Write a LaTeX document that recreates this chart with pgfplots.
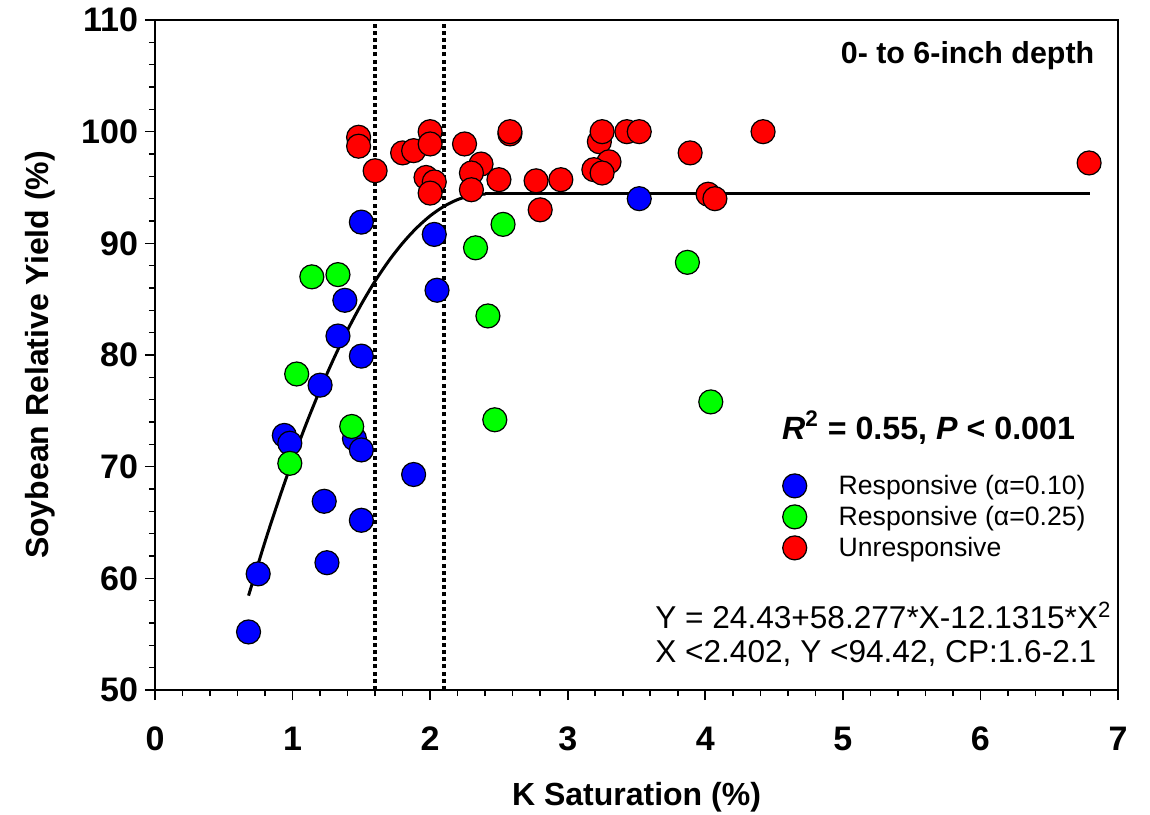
\documentclass[border=0pt]{standalone}
\usepackage{pgfplots}
\pgfplotsset{compat=1.18}
\usepackage{fontspec}
\setmainfont{Liberation Sans}
\begin{document}
\begin{tikzpicture}
\useasboundingbox (-77.5pt,-62pt) rectangle (497.5pt,345pt);
\begin{axis}[
  at={(0pt,0pt)}, anchor=south west,
  scale only axis, width=481.5pt, height=335pt,
  xmin=0, xmax=7, ymin=50, ymax=110,
  xtick={0,1,...,7}, ytick={50,60,...,110},
  minor x tick num=4, minor y tick num=4,
  tick align=outside, tick pos=left,
  major tick length=5pt, minor tick length=3pt,
  every tick/.style={black, line width=0.8pt},
  axis line style={line width=0.8pt},
  /pgf/number format/assume math mode=true,
  ticklabel style={font=\bfseries\fontsize{17}{20}\selectfont},
  xticklabel style={yshift=-10pt},
  xlabel={K Saturation (\%)}, ylabel={Soybean Relative Yield (\%)},
  label style={font=\bfseries\fontsize{16}{19}\selectfont},
  xlabel style={at={(axis description cs:0.5,-0.1597)}, anchor=center},
  ylabel style={at={(axis description cs:-0.1194,0.5)}, anchor=center},
  legend cell align=left,
  legend image code/.code={\draw[mark repeat=2,mark phase=2,#1] plot coordinates {(0pt,0pt)(6pt,0pt)(12pt,0pt)};},
  legend style={draw=none, fill=none, at={(axis cs:4.560,69.39)}, anchor=north west,
    inner sep=0pt, row sep=3.5pt, column sep=16pt,
    font=\fontsize{13.3}{16}\selectfont, nodes={inner sep=0pt}},
]
% dotted critical range lines
\addplot[forget plot, black, line width=2pt, dash pattern=on 2pt off 1.6pt] coordinates {(1.6,50) (1.6,110)};
\addplot[forget plot, black, line width=2pt, dash pattern=on 2pt off 1.6pt] coordinates {(2.1,50) (2.1,110)};
% blue
\addplot[only marks, mark=*, mark size=6pt, mark options={draw=black, fill=blue, line width=0.6pt}] coordinates {
(0.68,55.2) (0.75,60.4) (0.94,72.8) (0.98,72.1) (1.20,77.3) (1.23,66.9) (1.25,61.4)
(1.33,81.7) (1.38,84.9) (1.45,72.5) (1.50,71.5) (1.50,65.2) (1.50,79.9) (1.50,91.9)
(1.88,69.3) (2.03,90.8) (2.05,85.8) (3.52,94.0)};
\addlegendentry{Responsive (α=0.10)}
% green
\addplot[only marks, mark=*, mark size=6pt, mark options={draw=black, fill=green, line width=0.6pt}] coordinates {
(0.98,70.3) (1.03,78.3) (1.14,87.0) (1.33,87.2) (1.43,73.6) (2.33,89.6) (2.53,91.7)
(2.42,83.5) (2.47,74.2) (3.87,88.3) (4.04,75.8)};
\addlegendentry{Responsive (α=0.25)}
% red
\addplot[only marks, mark=*, mark size=6pt, mark options={draw=black, fill=red, line width=0.6pt}] coordinates {
(1.48,99.5) (1.48,98.7) (1.60,96.5) (1.80,98.1) (1.88,98.3) (2.00,100.0) (2.00,98.9)
(1.97,95.9) (2.03,95.5) (2.00,94.5) (2.25,98.9) (2.37,97.1) (2.30,96.3) (2.30,94.8)
(2.58,99.8) (2.58,100.0) (2.50,95.7) (2.77,95.6) (2.95,95.7) (2.80,93.0) (3.23,99.1)
(3.25,100.0) (3.43,100.0) (3.52,100.0) (3.30,97.3) (3.19,96.6) (3.25,96.3) (3.89,98.1)
(4.02,94.4) (4.07,94.0) (4.42,100.0) (6.79,97.2)};
\addlegendentry{Unresponsive}
% fitted quadratic-plateau
\addplot[forget plot, black, line width=1.5pt, smooth] coordinates {
(0.68,58.45) (0.8,63.29) (0.9,67.05) (1.0,70.58) (1.1,73.86) (1.2,76.89) (1.3,79.69)
(1.4,82.24) (1.5,84.55) (1.6,86.62) (1.7,88.44) (1.8,90.02) (1.9,91.36) (2.0,92.46)
(2.1,93.31) (2.2,93.92) (2.3,94.29) (2.402,94.42)};
\addplot[forget plot, black, line width=1.5pt] coordinates {(2.402,94.42) (6.8,94.42)};
\node[anchor=base east, font=\bfseries\fontsize{15.2}{18}\selectfont, inner sep=0pt] at (axis cs:6.83,106.13) {0- to 6-inch depth};
\node[anchor=base east, font=\bfseries\fontsize{16.1}{19}\selectfont, inner sep=0pt] at (axis cs:6.69,72.47) {\textit{R}\textsuperscript{2} = 0.55, \textit{P} < 0.001};
\node[anchor=base west, font=\fontsize{15.8}{18}\selectfont, inner sep=0pt] at (axis cs:3.634,55.55) {Y = 24.43+58.277*X-12.1315*X\textsuperscript{2}};
\node[anchor=base west, font=\fontsize{15.8}{18}\selectfont, inner sep=0pt] at (axis cs:3.634,52.42) {X <2.402, Y <94.42, CP:1.6-2.1};
\end{axis}
\end{tikzpicture}
\end{document}
